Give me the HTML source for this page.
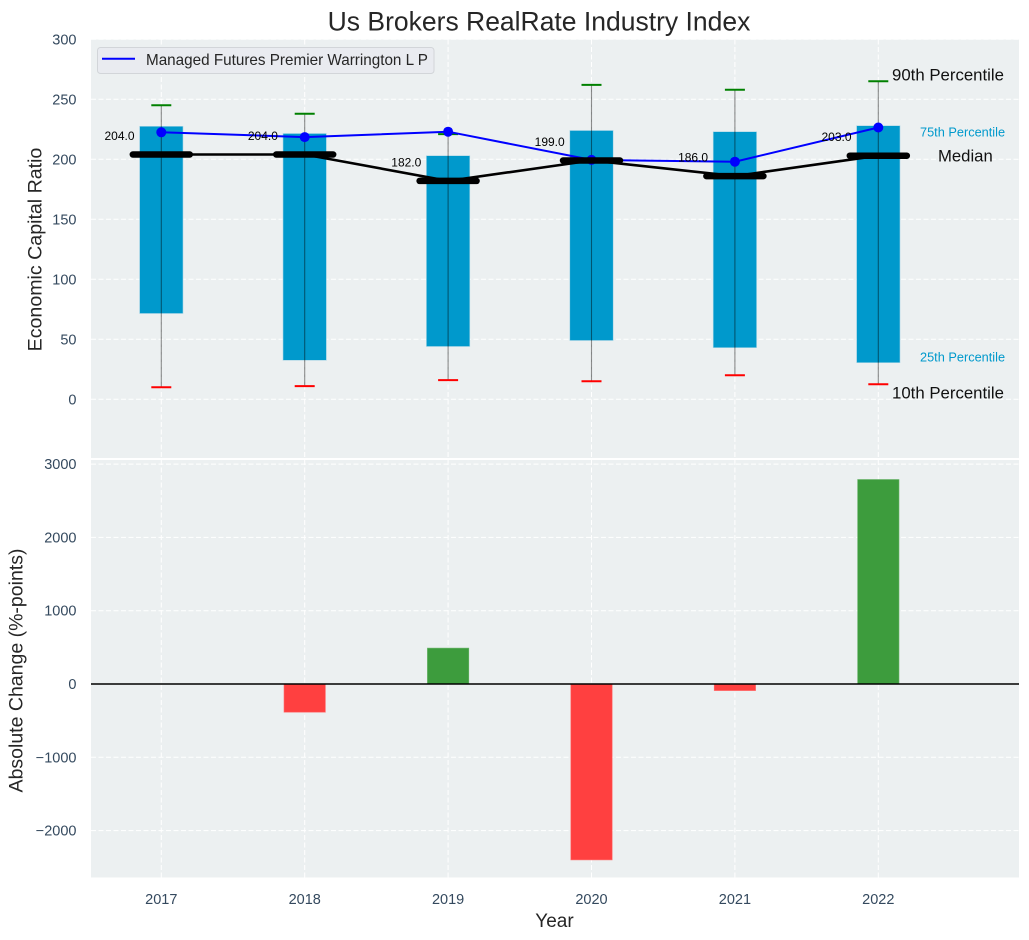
<!DOCTYPE html>
<html lang="en">
<head>
<meta charset="utf-8">
<title>Us Brokers RealRate Industry Index</title>
<style>
html,body{margin:0;padding:0;background:#fff;}
svg{display:block;font-family:"Liberation Sans",Arial,sans-serif;}
</style>
</head>
<body>
<svg id="chart" width="1029" height="940" viewBox="0 0 1029 940" xmlns="http://www.w3.org/2000/svg">
  <rect x="91" y="39.5" width="928" height="418.5" fill="#ecf0f1"/>
  <rect x="91" y="460" width="928" height="417.5" fill="#ecf0f1"/>
  <g id="grid"></g>
  <g id="bars"></g>
  <line x1="91" x2="1019" y1="684" y2="684" stroke="#000" stroke-width="1.5"/>
  <g id="boxes"></g>
  <g id="whiskers"></g>
  <g id="fund"></g>
  <g id="median"></g>
  <g id="ticks" font-size="14.5" fill="#34495e"></g>
  <text x="539" y="30.500" text-anchor="middle" font-size="26.5" fill="#262626">Us Brokers RealRate Industry Index</text>
  <text transform="translate(41.500,249.500) rotate(-90)" text-anchor="middle" font-size="19.6" fill="#262626">Economic Capital Ratio</text>
  <text transform="translate(22.500,670.500) rotate(-90)" text-anchor="middle" font-size="19.5" fill="#262626">Absolute Change (%-points)</text>
  <text x="554.500" y="927" text-anchor="middle" font-size="19" fill="#262626">Year</text>
  <g>
    <rect x="97.5" y="47.5" width="336.5" height="26" rx="3" fill="#e9ebf0" stroke="#d2d5d9" stroke-width="1"/>
    <line x1="102" x2="135" y1="58.7" y2="58.7" stroke="#0000ff" stroke-width="2"/>
    <text x="146" y="65" font-size="15.25" fill="#262626">Managed Futures Premier Warrington L P</text>
  </g>
  <text x="892" y="80.5" font-size="16.8" fill="#111">90th Percentile</text>
  <text x="920" y="136.300" font-size="12.75" fill="#0099cc">75th Percentile</text>
  <text x="938" y="161.500" font-size="16.7" fill="#111">Median</text>
  <text x="920" y="361.300" font-size="12.75" fill="#0099cc">25th Percentile</text>
  <text x="892" y="398.500" font-size="16.8" fill="#111">10th Percentile</text>
</svg>
<script>
const years = [2017, 2018, 2019, 2020, 2021, 2022];
const p90 = [245, 238, 221, 262, 258, 265];
const p75 = [227.5, 221.5, 203, 224, 223, 228];
const medianValues = [204, 204, 182, 199, 186, 203];
const p25 = [71.5, 32.5, 44, 49, 43, 30.5];
const p10 = [10, 11, 16, 15, 20, 12.5];
const fundValues = [222.5, 218.5, 223, 199.5, 198, 226.5];
const changeValues = [0, -385, 490, -2400, -90, 2790];
const topTicks = [0, 50, 100, 150, 200, 250, 300];
const bottomTicks = [-2000, -1000, 0, 1000, 2000, 3000];

const xPos = function (year) { return 161.3 + (year - 2017) * 143.4; };
const yTop = function (v) { return 399.3 - v * 1.2; };
const yBottom = function (v) { return 684 - v * 0.0733; };
const NS = 'http://www.w3.org/2000/svg';

function make(tag, parent, attrs) {
  const el = document.createElementNS(NS, tag);
  for (const k in attrs) { el.setAttribute(k, attrs[k]); }
  document.getElementById(parent).appendChild(el);
  return el;
}

const dash = '5 2.5';
topTicks.forEach(function (t) {
  const gl = make('line', 'grid', {x1: 91, x2: 1019, y1: yTop(t), y2: yTop(t), stroke: '#fff', 'stroke-width': 1, 'stroke-dasharray': dash});
  
  
  const lb = make('text', 'ticks', {x: 76.500, y: yTop(t) + 5, 'text-anchor': 'end'});
  lb.textContent = String(t);
  
  
});
bottomTicks.forEach(function (t) {
  const gl = make('line', 'grid', {x1: 91, x2: 1019, y1: yBottom(t), y2: yBottom(t), stroke: '#fff', 'stroke-width': 1, 'stroke-dasharray': dash});
  
  
  const lb = make('text', 'ticks', {x: 76.500, y: yBottom(t) + 5, 'text-anchor': 'end'});
  lb.textContent = String(t).replace('-', '\u2212');
  
  
});

years.forEach(function (yr, i) {
  const x = xPos(yr);

  const g1 = make('line', 'grid', {x1: x, x2: x, y1: 39.5, y2: 458, stroke: '#fff', 'stroke-width': 1, 'stroke-dasharray': dash});
  
  
  const g2 = make('line', 'grid', {x1: x, x2: x, y1: 460, y2: 877.5, stroke: '#fff', 'stroke-width': 1, 'stroke-dasharray': dash});
  
  

  const xl = make('text', 'ticks', {x: x, y: 904, 'text-anchor': 'middle'});
  xl.textContent = String(yr);
  
  

  const box = make('rect', 'boxes', {x: x - 21.7, width: 43.4, y: yTop(p75[i]), height: yTop(p25[i]) - yTop(p75[i]), fill: '#0099cc', stroke: '#a9d6e6', 'stroke-width': 0.6});
  
  

  const wh = make('line', 'whiskers', {x1: x, x2: x, y1: yTop(p90[i]), y2: yTop(p10[i]), stroke: '#000', 'stroke-opacity': 0.45, 'stroke-width': 1.1});
  
  
  const capHi = make('line', 'whiskers', {x1: x - 10, x2: x + 10, y1: yTop(p90[i]), y2: yTop(p90[i]), stroke: '#008000', 'stroke-width': 2});
  
  
  const capLo = make('line', 'whiskers', {x1: x - 10, x2: x + 10, y1: yTop(p10[i]), y2: yTop(p10[i]), stroke: '#ff0000', 'stroke-width': 2});
  
  

  const v = changeValues[i];
  if (v !== 0) {
    const bar = make('rect', 'bars', {x: x - 20.7, width: 41.4, y: Math.min(yBottom(v), yBottom(0)), height: Math.abs(yBottom(v) - yBottom(0)), fill: v > 0 ? '#3d9c3d' : '#ff4040', stroke: v > 0 ? '#6cb56c' : '#ff7070', 'stroke-width': 0.6});
    
    
  }
});

const fundPts = years.map(function (yr, i) { return xPos(yr) + ',' + yTop(fundValues[i]); }).join(' ');
const fundLine = make('polyline', 'fund', {points: fundPts, fill: 'none', stroke: '#0000ff', 'stroke-width': 2});


years.forEach(function (yr, i) {
  const dot = make('circle', 'fund', {cx: xPos(yr), cy: yTop(fundValues[i]), r: 5, fill: '#0000ff'});
  
  
});

const medPts = years.map(function (yr, i) { return xPos(yr) + ',' + yTop(medianValues[i]); }).join(' ');
const medLine = make('polyline', 'median', {points: medPts, fill: 'none', stroke: '#000', 'stroke-width': 2.6});


years.forEach(function (yr, i) {
  const x = xPos(yr);
  const y = yTop(medianValues[i]);
  const mk = make('line', 'median', {x1: x - 28.500, x2: x + 28.500, y1: y, y2: y, stroke: '#000', 'stroke-width': 6.5, 'stroke-linecap': 'round'});
  
  
  const lb = make('text', 'median', {x: x - 26.800, y: y - 14.500, 'text-anchor': 'end', 'font-size': 12, fill: '#000'});
  lb.textContent = medianValues[i].toFixed(1);
  
  
});
</script>
</body>
</html>
